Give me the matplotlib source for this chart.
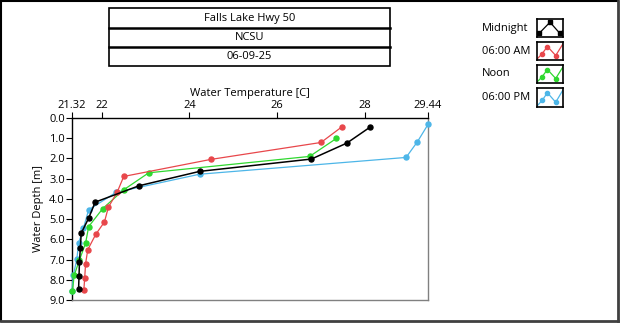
import matplotlib
matplotlib.use("Agg")
import matplotlib.pyplot as plt
from matplotlib.lines import Line2D
from matplotlib.patches import Rectangle

plt.rcParams["font.family"] = ["Open Sans", "DejaVu Sans"]

TITLE_LINES = ["Falls Lake Hwy 50", "NCSU", "06-09-25"]

SERIES_NAMES = ["Midnight", "06:00 AM", "Noon", "06:00 PM"]
SERIES_COLORS = ["#000000", "#e8474b", "#2fd82f", "#4db6e8"]

midnight_temp = [28.12, 27.59, 26.78, 24.23, 22.85, 21.85, 21.70, 21.53, 21.51, 21.49, 21.48, 21.47]
midnight_depth = [0.45, 1.24, 2.03, 2.64, 3.35, 4.16, 4.95, 5.70, 6.44, 7.12, 7.83, 8.47]

am_temp = [27.48, 27.00, 24.48, 22.50, 22.35, 22.15, 22.06, 21.86, 21.68, 21.63, 21.61, 21.59]
am_depth = [0.43, 1.21, 2.05, 2.89, 3.67, 4.41, 5.14, 5.76, 6.51, 7.20, 7.89, 8.52]

noon_temp = [27.35, 26.74, 23.07, 22.50, 22.02, 21.70, 21.63, 21.49, 21.37, 21.33]
noon_depth = [1.01, 1.90, 2.71, 3.55, 4.48, 5.37, 6.19, 7.02, 7.78, 8.54]

pm_temp = [29.44, 29.20, 28.94, 24.23, 22.33, 21.70, 21.58, 21.47, 21.43, 21.35, 21.32]
pm_depth = [0.32, 1.17, 1.95, 2.78, 3.67, 4.54, 5.45, 6.19, 6.99, 7.78, 8.54]

x_ticks = [21.32, 22, 24, 26, 28, 29.44]
x_tick_labels = ["21.32", "22", "24", "26", "28", "29.44"]
y_ticks = [0, 1, 2, 3, 4, 5, 6, 7, 8, 9]

W, H = 620, 324


def fx(px):
    return px / W


def fy(py):
    return 1 - py / H


fig = plt.figure(figsize=(6.2, 3.24), dpi=100)
fig.patch.set_facecolor("white")

# panel border
fig.add_artist(Line2D([fx(1), fx(618)], [fy(1), fy(1)], color="black", lw=1.5))
fig.add_artist(Line2D([fx(1), fx(1)], [fy(1), fy(321)], color="black", lw=1.5))
fig.add_artist(Line2D([fx(1), fx(618)], [fy(321), fy(321)], color="#404040", lw=2))
fig.add_artist(Line2D([fx(618), fx(618)], [fy(1), fy(321)], color="#404040", lw=2))

# title boxes
rows = [8, 28, 47, 66]
fig.add_artist(Rectangle((fx(109), fy(rows[-1])), fx(390) - fx(109), fy(rows[0]) - fy(rows[-1]),
                         fill=False, ec="black", lw=1.2))
for r in rows[1:-1]:
    fig.add_artist(Line2D([fx(109), fx(390)], [fy(r), fy(r)], color="black", lw=1.8))
for i, txt in enumerate(TITLE_LINES):
    fig.text(fx(249.5), fy((rows[i] + rows[i + 1]) / 2), txt, ha="center", va="center", fontsize=8)

# main plot, evening first so midnight ends up on top
ax = fig.add_axes([fx(72), fy(300), fx(428) - fx(72), fy(118) - fy(300)])
series = list(zip([midnight_temp, am_temp, noon_temp, pm_temp],
                  [midnight_depth, am_depth, noon_depth, pm_depth],
                  SERIES_COLORS))
for temp, depth, color in reversed(series):
    lw = 1.1 if color == "#000000" else 0.9
    ax.plot(temp, depth, color=color, lw=lw, marker="o", ms=3.6, clip_on=False, zorder=3)

ax.set_xlim(21.32, 29.44)
ax.set_ylim(9, 0)
ax.xaxis.tick_top()
ax.xaxis.set_label_position("top")
ax.set_xticks(x_ticks)
ax.set_xticklabels(x_tick_labels)
ax.set_yticks(y_ticks)
ax.set_yticklabels([f"{v:.1f}" for v in y_ticks])
ax.tick_params(axis="both", labelsize=8, length=4, width=0.8, pad=1, color="black")
ax.set_xlabel("Water Temperature [C]", fontsize=8, labelpad=3)
ax.set_ylabel("Water Depth [m]", fontsize=8, labelpad=4)
ax.spines["top"].set_color("black")
ax.spines["left"].set_color("black")
ax.spines["right"].set_color("#808080")
ax.spines["bottom"].set_color("#808080")
for s in ax.spines.values():
    s.set_linewidth(1)

# legend with small icon boxes
icon_rows = [(19, 37), (42, 60), (65, 83), (88, 107)]
for name, color, (top, bot) in zip(SERIES_NAMES, SERIES_COLORS, icon_rows):
    fig.text(fx(482), fy((top + bot) / 2), name, ha="left", va="center", fontsize=8)
    iax = fig.add_axes([fx(537), fy(bot), fx(563) - fx(537), fy(top) - fy(bot)])
    iax.set_xlim(0, 1)
    iax.set_ylim(0, 1)
    iax.set_xticks([])
    iax.set_yticks([])
    for s in iax.spines.values():
        s.set_linewidth(1.2)
        s.set_color("black")
    if name == "Midnight":
        iax.plot([0.08, 0.5, 0.88], [0.2, 0.82, 0.2], color=color, lw=0.9,
                 marker="s", ms=2.5, clip_on=False)
        iax.plot([0.88, 1.0], [0.2, 0.35], color=color, lw=0.9)
    else:
        iax.plot([0.0, 0.2, 0.4, 0.72, 1.0], [0.05, 0.35, 0.75, 0.25, 0.9], color=color, lw=0.9)
        iax.plot([0.2, 0.4, 0.72], [0.35, 0.75, 0.25], ls="none", color=color,
                 marker="o", ms=3)

fig.savefig("out.png", dpi=100)
